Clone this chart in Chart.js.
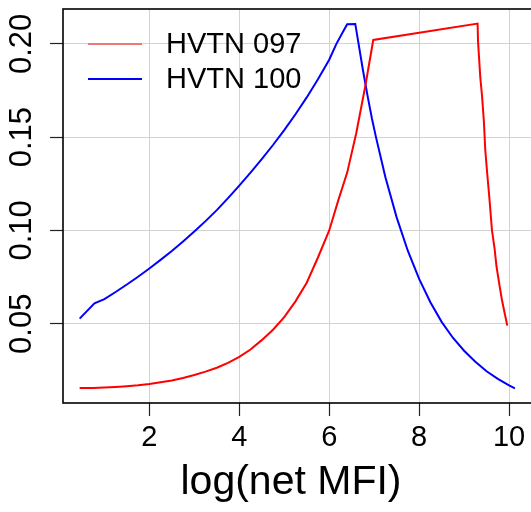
<!DOCTYPE html>
<html>
<head>
<meta charset="utf-8">
<script src="https://cdn.jsdelivr.net/npm/chart.js@4/dist/chart.umd.min.js"></script>
<style>
  html, body { margin: 0; padding: 0; background: #fff; overflow: hidden; }
  #wrap { width: 531px; height: 512px; overflow: hidden; }
</style>
</head>
<body>
<div id="wrap"><canvas id="chart" width="545" height="512"></canvas></div>
<script>
// values
const hvtn097X = [0.45, 0.75, 1.0, 1.25, 1.5, 1.75, 2.0, 2.25, 2.5, 2.75, 3.0, 3.25, 3.5, 3.75, 4.0, 4.25, 4.5, 4.75,
  5.0, 5.25, 5.5, 5.75, 6.0, 6.2, 6.4, 6.6, 6.8, 6.98,
  9.30, 9.31, 9.36, 9.40, 9.44, 9.47, 9.51, 9.56, 9.62, 9.68, 9.72, 9.79, 9.84, 9.90, 9.96]
const hvtn097Y = [0.0155, 0.0156, 0.0158, 0.0161, 0.0165, 0.0170, 0.0177, 0.0186, 0.0196, 0.0209, 0.0225, 0.0243, 0.0264, 0.0290, 0.0322, 0.0362, 0.0412, 0.0468,
  0.0535, 0.0620, 0.0720, 0.0855, 0.1000, 0.1160, 0.1310, 0.1520, 0.1770, 0.2021,
  0.2109, 0.2012, 0.1820, 0.1718, 0.1584, 0.1434, 0.1316, 0.1180, 0.1000, 0.0898, 0.0808, 0.0701, 0.0630, 0.0559, 0.0490]

const hvtn100X = [0.45, 0.78, 1.0, 1.25, 1.5, 1.75, 2.0, 2.25, 2.5, 2.75, 3.0, 3.25, 3.5, 3.75, 4.0, 4.25, 4.5, 4.75,
  5.0, 5.25, 5.5, 5.75, 6.0, 6.16, 6.31, 6.4, 6.58, 6.65, 6.75, 6.85, 6.95,
  7.04, 7.25, 7.5, 7.75, 8.0, 8.25, 8.5, 8.75, 9.0, 9.25, 9.5, 9.75, 10.0, 10.13]
const hvtn100Y = [0.0527, 0.0609, 0.0632, 0.0670, 0.0710, 0.0752, 0.0796, 0.0842, 0.0890, 0.0941, 0.0994, 0.1050, 0.1109, 0.1173, 0.1240, 0.1310, 0.1382, 0.1458,
  0.1538, 0.1623, 0.1713, 0.1810, 0.1915, 0.2000, 0.2066, 0.2105, 0.2107, 0.2005, 0.1860, 0.1725, 0.1600,
  0.1500, 0.1285, 0.1070, 0.0890, 0.0740, 0.0615, 0.0510, 0.0425, 0.0355, 0.0296, 0.0245, 0.0204, 0.0170, 0.0153]

const seriesNames = ['HVTN 097', 'HVTN 100']
const seriesColors = ['#ff0000', '#0000ff']

const xTicks = [2, 4, 6, 8, 10]
const yTicks = [0.05, 0.10, 0.15, 0.20]
const xTitle = 'log(net MFI)'

const toPoints = (xs, ys) => xs.map((x, i) => ({ x: x, y: ys[i] }))

// legend, rotated y labels, box and axis title, drawn the R way
const decorations = {
  id: 'decorations',
  afterDatasetsDraw(chart) {
    const ctx = chart.ctx
    ctx.save()
    const rows = [44, 79]
    seriesNames.forEach((name, i) => {
      ctx.strokeStyle = i === 0 ? '#ee7777' : seriesColors[i]
      ctx.lineWidth = 2
      ctx.beginPath()
      ctx.moveTo(88, rows[i])
      ctx.lineTo(142, rows[i])
      ctx.stroke()
      ctx.fillStyle = '#000'
      ctx.font = '29px "Liberation Sans", Arial, sans-serif'
      ctx.textAlign = 'left'
      ctx.textBaseline = 'middle'
      ctx.fillText(name, 166, rows[i] + 0.5)
    })
    ctx.restore()
  },
  afterDraw(chart) {
    const ctx = chart.ctx
    const area = chart.chartArea
    const yScale = chart.scales.y
    ctx.save()
    ctx.strokeStyle = '#000'
    ctx.lineWidth = 1.6
    ctx.strokeRect(area.left, area.top, area.right - area.left, area.bottom - area.top)

    ctx.fillStyle = '#000'
    ctx.font = '31px "Liberation Sans", Arial, sans-serif'
    ctx.textAlign = 'center'
    ctx.textBaseline = 'middle'
    yTicks.forEach(v => {
      const py = yScale.getPixelForValue(v)
      ctx.save()
      ctx.translate(22, py)
      ctx.rotate(-Math.PI / 2)
      ctx.fillText(v.toFixed(2), 0, 0)
      ctx.restore()
    })

    ctx.font = '41px "Liberation Sans", Arial, sans-serif'
    ctx.fillText(xTitle, 291, 483)
    ctx.restore()
  }
}

new Chart(document.getElementById('chart'), {
  type: 'line',
  data: {
    datasets: [
      {
        label: seriesNames[0],
        data: toPoints(hvtn097X, hvtn097Y),
        borderColor: seriesColors[0],
        borderWidth: 2,
        pointRadius: 0,
        tension: 0,
        fill: false
      },
      {
        label: seriesNames[1],
        data: toPoints(hvtn100X, hvtn100Y),
        borderColor: seriesColors[1],
        borderWidth: 2,
        pointRadius: 0,
        tension: 0,
        fill: false
      }
    ]
  },
  options: {
    responsive: false,
    animation: false,
    events: [],
    layout: { padding: { top: 9, right: 13, left: 0, bottom: 0 } },
    plugins: {
      legend: { display: false },
      tooltip: { enabled: false }
    },
    scales: {
      x: {
        type: 'linear',
        min: 0.08,
        max: 10.51,
        z: 1,
        afterBuildTicks(scale) {
          scale.ticks = xTicks.map(v => ({ value: v }))
        },
        afterFit(scale) {
          scale.height = 109
        },
        border: { display: false },
        grid: {
          color: '#d3d3d3',
          lineWidth: 1,
          drawTicks: true,
          tickLength: 13,
          tickColor: '#222',
          tickWidth: 1.2
        },
        ticks: {
          color: '#000',
          padding: 5,
          maxRotation: 0,
          font: { family: '"Liberation Sans", Arial, sans-serif', size: 29 },
          callback: v => String(v)
        }
      },
      y: {
        type: 'linear',
        min: 0.0075,
        max: 0.2187,
        z: 1,
        afterBuildTicks(scale) {
          scale.ticks = yTicks.map(v => ({ value: v }))
        },
        afterFit(scale) {
          scale.width = 63
        },
        border: { display: false },
        grid: {
          color: '#d3d3d3',
          lineWidth: 1,
          drawTicks: true,
          tickLength: 13,
          tickColor: '#222',
          tickWidth: 1.2
        },
        ticks: { display: false }
      }
    }
  },
  plugins: [decorations]
})
</script>
</body>
</html>
